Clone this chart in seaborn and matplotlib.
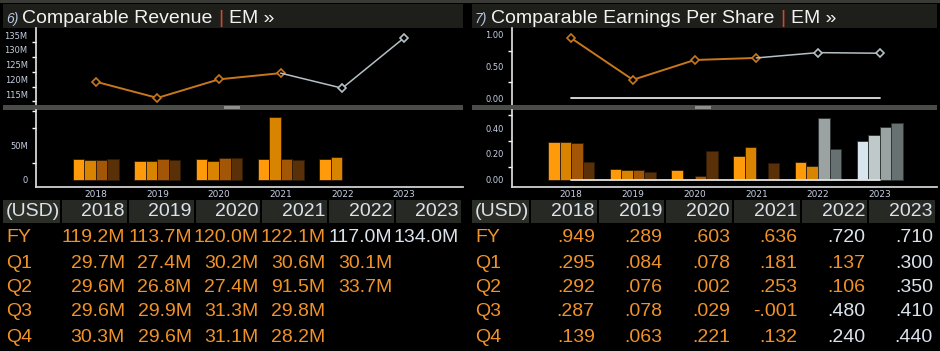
import numpy as np
import pandas as pd
import seaborn as sns
import matplotlib.pyplot as plt
from matplotlib.patches import Rectangle
from matplotlib.ticker import FuncFormatter, MultipleLocator

# ---- data ----
years = ["2018", "2019", "2020", "2021", "2022", "2023"]
quarters = ["Q1", "Q2", "Q3", "Q4"]
fy_est = [0, 0, 0, 0, 1, 1]

rev_fy = [119.2, 113.7, 120.0, 122.1, 117.0, 134.0]
rev_q1 = [29.7, 27.4, 30.2, 30.6, 30.1, np.nan]
rev_q2 = [29.6, 26.8, 27.4, 91.5, 33.7, np.nan]
rev_q3 = [29.6, 29.9, 31.3, 29.8, np.nan, np.nan]
rev_q4 = [30.3, 29.6, 31.1, 28.2, np.nan, np.nan]
rev_q_est = [[0] * 6, [0] * 6, [0] * 6, [0] * 6]

eps_fy = [0.949, 0.289, 0.603, 0.636, 0.720, 0.710]
eps_q1 = [0.295, 0.084, 0.078, 0.181, 0.137, 0.300]
eps_q2 = [0.292, 0.076, 0.002, 0.253, 0.106, 0.350]
eps_q3 = [0.287, 0.078, 0.029, -0.001, 0.480, 0.410]
eps_q4 = [0.139, 0.063, 0.221, 0.132, 0.240, 0.440]
eps_q_est = [[0, 0, 0, 0, 0, 1], [0, 0, 0, 0, 0, 1],
             [0, 0, 0, 0, 1, 1], [0, 0, 0, 0, 1, 1]]
eps_base = [0, 0, 0, 0, 0, 0]

# ---- style ----
ORANGE_LINE = "#c8771c"
EST_LINE = "#b4c0c6"
TXT_ACT = "#f0922a"
TXT_EST = "#dbe3ec"
TICK_TXT = "#c6d0e2"
orange_pal = ["#ff9a0a", "#d88400", "#a35606", "#5a3008"]
gray_pal = ["#d9e5ee", "#c0c9ca", "#9aa2a2", "#687171"]

sns.set_theme(style="dark", rc={"axes.facecolor": "black", "figure.facecolor": "black"})
plt.rcParams["font.family"] = ["Liberation Sans", "DejaVu Sans"]

W, H = 940, 351
fig = plt.figure(figsize=(W / 100, H / 100), dpi=100, facecolor="black")


def px_axes(left, top, right, bottom):
    return fig.add_axes([left / W, 1 - bottom / H, (right - left) / W, (bottom - top) / H])


def style_axis(ax, show_bottom):
    ax.set_facecolor("black")
    for s in ["top", "right"]:
        ax.spines[s].set_visible(False)
    ax.spines["left"].set_color("#e6e6e6")
    ax.spines["left"].set_linewidth(1.2)
    ax.spines["bottom"].set_visible(show_bottom)
    ax.spines["bottom"].set_color("#d8d8d8")
    ax.grid(False)
    ax.tick_params(axis="y", which="major", length=5, width=2, color="white",
                   labelsize=6, labelcolor=TICK_TXT, pad=1)
    ax.tick_params(axis="y", which="minor", length=3, width=1, color="white", left=True)
    for lab in ax.get_yticklabels():
        lab.set_family("DejaVu Sans")


def draw_panel(x0, x1, spine_x, num, title, fy, qs, q_est, xlim,
               line_ylim, line_step, line_minor, line_fmt,
               bar_ylim, bar_ticks, bar_minor, bar_fmt, table_fmt, base=None):
    # title bar
    tb = px_axes(x0, 4, x1, 28)
    tb.set_facecolor("#1e1f1b")
    tb.set_xticks([]); tb.set_yticks([])
    for s in tb.spines.values():
        s.set_visible(False)
    fig.text((x0 + 3) / W, 1 - 23 / H, num, color="#b9c8e2", fontsize=10,
             style="italic", va="baseline")
    t1 = fig.text((x0 + 19) / W, 1 - 27 / H, title, color="#f2f2f2",
                  fontsize=14, va="bottom")
    a1 = plt.annotate("|", xy=(1, 0), xycoords=t1, xytext=(4, 0),
                      textcoords="offset points", color="#cc4a30", fontsize=14,
                      va="bottom", annotation_clip=False)
    plt.annotate("EM \u00bb", xy=(1, 0), xycoords=a1, xytext=(4, 0),
                 textcoords="offset points", color="#f2f2f2",
                 fontsize=14, va="bottom", annotation_clip=False)

    idx = np.arange(len(years))

    # line chart (FY)
    la = px_axes(spine_x, 28, x1, 105)
    if base is not None:
        sns.lineplot(x=idx, y=base, color="#e2e2e2", lw=1.3, ax=la)
    act = [i for i in idx if not fy_est[i]]
    est = [act[-1]] + [i for i in idx if fy_est[i]]
    sns.lineplot(x=idx[act], y=np.array(fy)[act], color=ORANGE_LINE, lw=1.4, marker="D",
                 markersize=4.5, markerfacecolor="black", markeredgecolor=ORANGE_LINE,
                 markeredgewidth=1.2, ax=la)
    sns.lineplot(x=idx[est], y=np.array(fy)[est], color=EST_LINE, lw=1.1, ax=la)
    sns.lineplot(x=idx[est[1:]], y=np.array(fy)[est[1:]], color=EST_LINE, lw=0, marker="D",
                 markersize=4.5, markerfacecolor="black", markeredgecolor=EST_LINE,
                 markeredgewidth=1.2, ax=la)
    la.set_xlim(*xlim)
    la.set_ylim(*line_ylim)
    la.set_xticks([])
    la.yaxis.set_major_locator(MultipleLocator(line_step))
    la.yaxis.set_minor_locator(MultipleLocator(line_minor))
    la.yaxis.set_major_formatter(FuncFormatter(line_fmt))
    la.set_xlabel(""); la.set_ylabel("")
    style_axis(la, False)

    # splitter band
    sb = px_axes(x0, 105, x1, 110)
    sb.set_facecolor("#4a4d47")
    sb.set_xticks([]); sb.set_yticks([])
    for s in sb.spines.values():
        s.set_visible(False)
    sb.add_patch(Rectangle((0.48, 0.25), 0.035, 0.5, transform=sb.transAxes,
                           color="#8e908c", lw=0))

    # bar chart (quarters)
    ba = px_axes(spine_x, 110, x1, 187)
    rows = []
    for qi, q in enumerate(quarters):
        for yi, y in enumerate(years):
            if not np.isnan(qs[qi][yi]):
                rows.append({"year": y, "quarter": q, "value": qs[qi][yi],
                             "est": bool(q_est[qi][yi])})
    df = pd.DataFrame(rows)
    for flag, pal, ec in [(False, orange_pal, "#2e1a04"), (True, gray_pal, "#2c3232")]:
        sub = df[df["est"] == flag]
        if len(sub) == 0:
            continue
        sns.barplot(data=sub, x="year", y="value", hue="quarter", order=years,
                    hue_order=quarters, palette=pal, width=0.75, dodge=True,
                    errorbar=None, edgecolor=ec, linewidth=0.6, legend=False,
                    saturation=1, ax=ba)
    if base is not None:
        sns.lineplot(x=idx, y=base, color="#e2e2e2", lw=1.3, ax=ba)
    ba.set_xlim(*xlim)
    ba.set_ylim(*bar_ylim)
    ba.set_yticks(bar_ticks)
    ba.yaxis.set_minor_locator(MultipleLocator(bar_minor))
    ba.yaxis.set_major_formatter(FuncFormatter(bar_fmt))
    ba.set_xlabel(""); ba.set_ylabel("")
    style_axis(ba, True)
    ba.tick_params(axis="x", length=0, labelsize=6.5, labelcolor=TICK_TXT, pad=2)
    for lab in ba.get_xticklabels():
        lab.set_family("DejaVu Sans")

    # table
    ta = px_axes(x0, 199, x1, 351)
    pw = x1 - x0
    ta.set_xlim(0, pw); ta.set_ylim(152, 0)
    ta.axis("off")
    first = 59
    colw = (pw - first) / 6
    ta.add_patch(Rectangle((0, 1), first - 2, 23, color="#2b2d27", lw=0))
    ta.text(3, 12.5, "(USD)", color="#dce2ea", fontsize=14, ha="left", va="center")
    for i, y in enumerate(years):
        left = first + i * colw
        ta.add_patch(Rectangle((left, 1), colw - 2, 23, color="#272924", lw=0))
        ta.text(left + colw - 4, 12.5, y, color="#dce2ea", fontsize=14, ha="right", va="center")
    row_y = [39, 64, 88.5, 113, 138]
    labels = ["FY"] + quarters
    values = [fy] + list(qs)
    flags = [fy_est] + list(q_est)
    for r in range(5):
        ta.text(3, row_y[r], labels[r], color=TXT_ACT, fontsize=14, ha="left", va="center")
        for i in range(6):
            v = values[r][i]
            if np.isnan(v):
                continue
            c = TXT_EST if flags[r][i] else TXT_ACT
            ta.text(first + (i + 1) * colw - 4, row_y[r], table_fmt(v), color=c,
                    fontsize=14, ha="right", va="center")


def eps_txt(v):
    s = f"{abs(v):.3f}".lstrip("0")
    return ("-" if v < 0 else "") + s


draw_panel(3, 463, 36, "6)", "Comparable Revenue", rev_fy,
           [rev_q1, rev_q2, rev_q3, rev_q4], rev_q_est, (-0.97, 5.96),
           (111.3, 137.4), 5, 2.5, lambda v, p: f"{v:.0f}M",
           (-10.3, 101.5), [0, 50], 25, lambda v, p: "0" if v == 0 else f"{v:.0f}M",
           lambda v: f"{v:.1f}M")

draw_panel(472, 937, 512, "7)", "Comparable Earnings Per Share", eps_fy,
           [eps_q1, eps_q2, eps_q3, eps_q4], eps_q_est, (-0.96, 5.93),
           (-0.11, 1.11), 0.5, 0.25, lambda v, p: f"{v:.2f}",
           (-0.055, 0.54), [0, 0.2, 0.4], 0.1, lambda v, p: f"{v:.2f}",
           eps_txt, base=eps_base)

# thin tab strip at the very top
top = px_axes(0, 0, W, 3)
top.set_facecolor("#3a3b37")
top.set_xticks([]); top.set_yticks([])
for s in top.spines.values():
    s.set_visible(False)

fig.savefig("out.png", dpi=100, facecolor="black")
